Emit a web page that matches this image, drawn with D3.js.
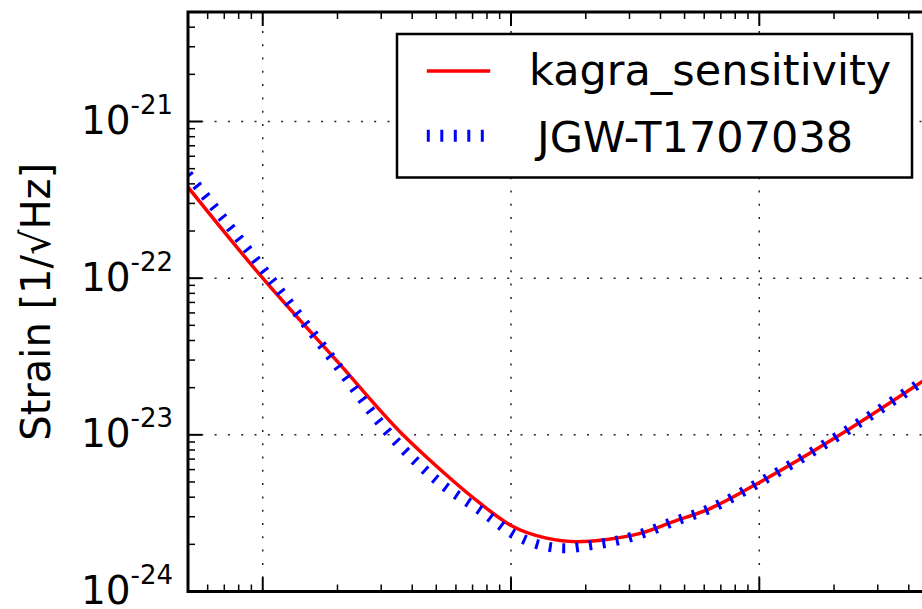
<!DOCTYPE html>
<html>
<head>
<meta charset="utf-8">
<script src="https://cdn.jsdelivr.net/npm/d3@7"></script>
<style>
  html, body { margin: 0; padding: 0; background: #fff; }
  svg { display: block; font-family: "DejaVu Sans", sans-serif; }
</style>
</head>
<body>
<svg id="chart" width="922" height="609"></svg>
<script>
// ---- data ----
const seriesNames = ["kagra_sensitivity", "JGW-T1707038"];
const redFreq   = [5, 10, 20, 36.7, 50, 75, 100, 139, 184, 243, 331, 450, 627, 1000, 2113, 4550];
const redStrain = [3.81e-22, 1.0e-22, 2.93e-23, 1.0e-23, 6.32e-24, 3.66e-24, 2.64e-24, 2.19e-24, 2.08e-24, 2.15e-24, 2.35e-24, 2.79e-24, 3.36e-24, 4.96e-24, 1.0e-23, 2.2e-23];
const blueFreq   = [5, 10, 18.7, 32.6, 51.8, 76.6, 104, 131, 165, 208, 267, 340, 450, 627, 1000, 2113, 4550];
const blueStrain = [4.61e-22, 1.15e-22, 3.18e-23, 1.0e-23, 4.93e-24, 3.23e-24, 2.29e-24, 1.98e-24, 1.89e-24, 1.97e-24, 2.11e-24, 2.35e-24, 2.79e-24, 3.36e-24, 4.96e-24, 1.0e-23, 2.2e-23];
const yMajorExponents = [-24, -23, -22, -21];
const yLabel = "Strain [1/\u221AHz]";

// ---- layout ----
const W = 922, H = 609;
const pLeft = 188, pTop = 12, pBottom = 591.5, pRight = 1000;

const x = d3.scaleLog().domain([5, 1000]).range([pLeft, 759.3]);
const y = d3.scaleLog().domain([1e-24, 5e-21]).range([pBottom, pTop]);

const svg = d3.select("#chart");

svg.append("defs").append("clipPath").attr("id", "plotclip")
  .append("rect").attr("x", pLeft).attr("y", pTop)
  .attr("width", pRight - pLeft).attr("height", pBottom - pTop);

// ---- grid ----
const xVisible = d3.scaleLog().domain([5, x.invert(W)]);
const xTicks = xVisible.ticks().filter(v => x(v) > pLeft + 3 && x(v) < W + 5);
const isMajor = v => Math.abs(Math.log10(v) - Math.round(Math.log10(v))) < 1e-9;
const xMajor = xTicks.filter(isMajor);
const xMinor = xTicks.filter(v => !isMajor(v));
const yTicksAll = y.ticks();
const yMajor = yTicksAll.filter(isMajor);
const yMinor = yTicksAll.filter(v => !isMajor(v));

const grid = svg.append("g").attr("stroke", "#222").attr("stroke-width", 1.5)
  .attr("stroke-dasharray", "2,11.3").attr("fill", "none");
xMajor.forEach(v => {
  grid.append("path").attr("d", `M${x(v)},${pBottom}L${x(v)},${pTop}`);
});
yMajor.filter(v => y(v) < pBottom - 2).forEach(v => {
  grid.append("path").attr("d", `M${pLeft},${y(v)}L${pRight},${y(v)}`);
});

// ---- curves ----
const line = d3.line().x(d => x(d[0])).y(d => y(d[1])).curve(d3.curveMonotoneX);
const redData = redFreq.map((f, i) => [f, redStrain[i]]);
const blueData = blueFreq.map((f, i) => [f, blueStrain[i]]);

const plot = svg.append("g").attr("clip-path", "url(#plotclip)");
plot.append("path").datum(redData).attr("d", line)
  .attr("fill", "none").attr("stroke", "#ff0000").attr("stroke-width", 3.5);
plot.append("path").datum(blueData).attr("d", line)
  .attr("fill", "none").attr("stroke", "#0000ff").attr("stroke-width", 10)
  .attr("stroke-dasharray", "3,10.5");

// ---- ticks ----
const ticks = svg.append("g").attr("stroke", "#000").attr("fill", "none");
xMajor.forEach(v => {
  ticks.append("line").attr("x1", x(v)).attr("x2", x(v)).attr("y1", pBottom).attr("y2", pBottom - 14).attr("stroke-width", 2);
  ticks.append("line").attr("x1", x(v)).attr("x2", x(v)).attr("y1", pTop).attr("y2", pTop + 14).attr("stroke-width", 2);
});
xMinor.forEach(v => {
  ticks.append("line").attr("x1", x(v)).attr("x2", x(v)).attr("y1", pBottom).attr("y2", pBottom - 7).attr("stroke-width", 1.5);
  ticks.append("line").attr("x1", x(v)).attr("x2", x(v)).attr("y1", pTop).attr("y2", pTop + 7).attr("stroke-width", 1.5);
});
yMajor.forEach(v => {
  ticks.append("line").attr("x1", pLeft).attr("x2", pLeft + 14).attr("y1", y(v)).attr("y2", y(v)).attr("stroke-width", 2);
});
yMinor.forEach(v => {
  ticks.append("line").attr("x1", pLeft).attr("x2", pLeft + 7).attr("y1", y(v)).attr("y2", y(v)).attr("stroke-width", 1.5);
});

// ---- frame ----
svg.append("rect").attr("x", pLeft).attr("y", pTop)
  .attr("width", pRight - pLeft).attr("height", pBottom - pTop)
  .attr("fill", "none").attr("stroke", "#000").attr("stroke-width", 3);

// ---- y tick labels ----
yMajorExponents.forEach(e => {
  const t = svg.append("text").attr("x", 173).attr("y", y(Math.pow(10, e)) + 12.5)
    .attr("text-anchor", "end").attr("fill", "#000");
  t.append("tspan").attr("font-size", 39).text("10");
  t.append("tspan").attr("font-size", 26).attr("dy", -20).text(String(e));
});

// ---- y axis label ----
svg.append("text").attr("transform", `translate(50,${(pTop + pBottom) / 2}) rotate(-90)`)
  .attr("text-anchor", "middle").attr("font-size", 40).attr("fill", "#000").text(yLabel);

// ---- legend ----
const lg = svg.append("g");
lg.append("rect").attr("x", 397).attr("y", 34).attr("width", 515).attr("height", 143.5)
  .attr("fill", "#fff").attr("stroke", "#000").attr("stroke-width", 2.5);
lg.append("line").attr("x1", 426.8).attr("x2", 490.2).attr("y1", 71).attr("y2", 71)
  .attr("stroke", "#ff0000").attr("stroke-width", 3.5);
lg.append("line").attr("x1", 426.8).attr("x2", 490.2).attr("y1", 135.8).attr("y2", 135.8)
  .attr("stroke", "#0000ff").attr("stroke-width", 12).attr("stroke-dasharray", "3,10.5");
lg.append("text").attr("x", 529).attr("y", 85).attr("font-size", 43).attr("fill", "#000").text(seriesNames[0]);
lg.append("text").attr("x", 537).attr("y", 152).attr("font-size", 43).attr("fill", "#000").text(seriesNames[1]);
</script>
</body>
</html>
